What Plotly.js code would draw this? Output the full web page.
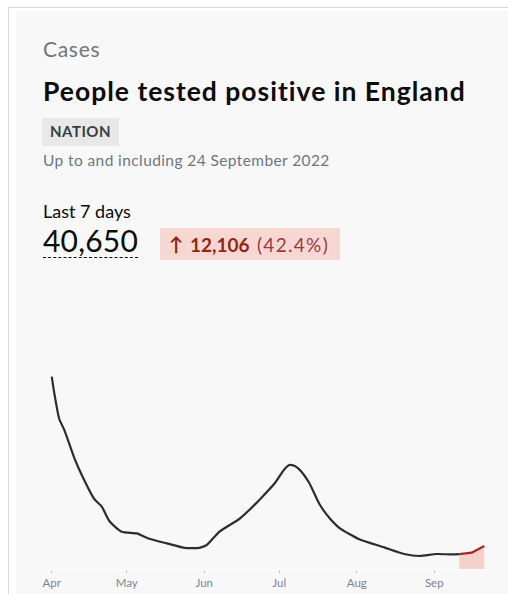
<!DOCTYPE html>
<html>
<head>
<meta charset="utf-8">
<script src="https://cdn.plot.ly/plotly-3.0.1.min.js"></script>
<style>
  html, body { margin:0; padding:0; width:508px; height:594px; overflow:hidden; background:#ffffff; font-family:"Lato","Noto Sans",sans-serif; }
  #frame { position:absolute; left:8px; top:7px; width:520px; height:600px; border-left:1px solid #d9d9d9; border-top:1px solid #d9d9d9; }
  #card { position:absolute; left:16px; top:11px; width:520px; height:600px; background:#f8f8f8; }
  .t { position:absolute; white-space:nowrap; }
  #cat { left:43px; top:36px; font-size:21px; color:#6f777b; letter-spacing:0.7px; }
  #title { left:43px; top:75px; font-size:26.5px; font-weight:700; color:#0b0c0c; letter-spacing:1px; }
  #badge { left:42px; top:118px; width:77px; height:28px; background:#e8e8e8; }
  #badgeT { left:50px; top:122px; font-size:15px; font-weight:700; color:#383f43; letter-spacing:0.5px; }
  #upto { left:43px; top:151px; font-size:15.5px; color:#6f777b; letter-spacing:0.4px; }
  #last { left:43px; top:200px; font-size:18px; color:#0b0c0c; }
  #num { left:43px; top:224px; font-size:30px; color:#0b0c0c; border-bottom:1.5px dashed #0b0c0c; line-height:33px; letter-spacing:0.2px; }
  #chg { left:160px; top:228px; width:180px; height:32px; background:#f6d7d2; }
  #arrow { left:169px; top:232px; font-size:19px; font-weight:700; color:#942514; font-family:"Lato",sans-serif; }
  #chgN { left:190px; top:232.5px; font-size:19px; font-weight:700; color:#942514; }
  #chgP { left:257px; top:232.5px; font-size:19px; color:#9b3a40; letter-spacing:1.3px; }
  #plot { position:absolute; left:0; top:340px; width:508px; height:254px; }
</style>
</head>
<body>
<div id="frame"></div>
<div id="card"></div>
<div class="t" id="cat">Cases</div>
<div class="t" id="title">People tested positive in England</div>
<div class="t" id="badge"></div>
<div class="t" id="badgeT">NATION</div>
<div class="t" id="upto">Up to and including 24 September 2022</div>
<div class="t" id="last">Last 7 days</div>
<div class="t" id="num">40,650</div>
<div class="t" id="chg"></div>
<div class="t" id="arrow">↑</div>
<div class="t" id="chgN">12,106</div>
<div class="t" id="chgP">(42.4%)</div>
<div id="plot"></div>
<script>
// Daily cases (7-day rolling average)
const dates = ["2022-04-01","2022-04-02","2022-04-04","2022-04-06","2022-04-10","2022-04-13","2022-04-18","2022-04-21","2022-04-24","2022-04-29","2022-05-05","2022-05-10","2022-05-17","2022-05-24","2022-05-30","2022-06-02","2022-06-07","2022-06-15","2022-06-19","2022-06-24","2022-06-29","2022-07-03","2022-07-05","2022-07-07","2022-07-09","2022-07-13","2022-07-17","2022-07-21","2022-07-25","2022-08-02","2022-08-12","2022-08-20","2022-08-26","2022-09-02","2022-09-08","2022-09-11"];
const cases = [48100,44000,37500,34800,27800,23500,17500,15600,12000,9300,8900,7550,6400,5300,5300,6000,9300,12500,14750,17900,21300,24900,26000,25800,24900,21500,16300,12800,10300,7450,5400,3750,3250,3750,3650,3700];
const recentDates = ["2022-09-11","2022-09-16","2022-09-21"];
const recentCases = [3700,4075,5750];
const monthTicks = ["2022-04-01","2022-05-01","2022-06-01","2022-07-01","2022-08-01","2022-09-01"];
const monthLabels = ["Apr","May","Jun","Jul","Aug","Sep"];

const traces = [
  { x: recentDates, y: recentCases, type:"scatter", mode:"lines", fill:"tozeroy",
    fillcolor:"rgba(244,196,188,0.75)", line:{color:"rgba(0,0,0,0)", width:0}, hoverinfo:"skip" },
  { x: dates, y: cases, type:"scatter", mode:"lines",
    line:{color:"#2b2e30", width:2.2, shape:"spline", smoothing:0.6} },
  { x: recentDates, y: recentCases, type:"scatter", mode:"lines",
    line:{color:"#a8261a", width:2.2} }
];
const layout = {
  width:508, height:254,
  margin:{l:45, r:18, t:20, b:25},
  paper_bgcolor:"rgba(0,0,0,0)", plot_bgcolor:"rgba(0,0,0,0)",
  showlegend:false,
  xaxis:{ type:"date", range:["2022-03-29 07:00","2022-09-23 07:00"],
    tickmode:"array", tickvals:monthTicks, ticktext:monthLabels,
    ticks:"outside", ticklen:3, tickwidth:1, tickcolor:"#c4c4c4",
    showgrid:false, zeroline:false, showline:true, linecolor:"#ffffff", linewidth:1,
    tickfont:{family:"Lato, Noto Sans, sans-serif", size:11.5, color:"#7d8590"} },
  yaxis:{ range:[0,52250], visible:false, showgrid:false, zeroline:false, fixedrange:true }
};
Plotly.newPlot("plot", traces, layout, {displayModeBar:false, staticPlot:true});
</script>
</body>
</html>
